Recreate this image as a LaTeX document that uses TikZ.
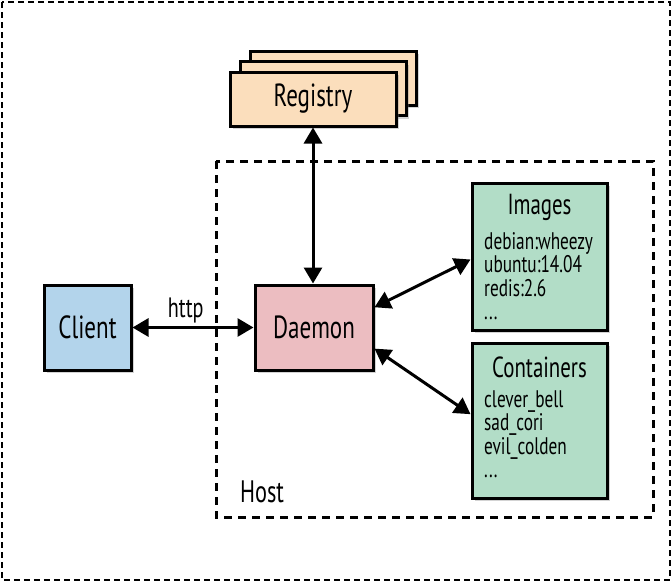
\documentclass[tikz,border=0pt]{standalone}
\usepackage{fontspec}
\setmainfont{PT Sans}[FakeStretch=0.72]
\usetikzlibrary{arrows.meta, calc, shadows}
\definecolor{clientblue}{RGB}{179,212,235}
\definecolor{daemonpink}{RGB}{236,189,193}
\definecolor{registryorange}{RGB}{251,222,188}
\definecolor{storegreen}{RGB}{178,221,199}

\begin{document}
\begin{tikzpicture}[x=1pt, y=-1pt,
    box/.style={draw, line width=3pt, inner sep=0pt,
        drop shadow={shadow xshift=3pt, shadow yshift=-3pt, opacity=0.35},
        font=\fontsize{32}{34}\selectfont},
    title/.style={font=\fontsize{29}{32}\selectfont, inner sep=0pt},
    listtext/.style={font=\fontsize{24}{23.5}\selectfont, align=left, inner sep=0pt},
    link/.style={line width=3pt, {Triangle[length=16pt, width=18pt]}-{Triangle[length=16pt, width=18pt]}},
    frame/.style={dashed, line width=3pt, dash pattern=on 8pt off 6pt}]
    \useasboundingbox (0,0) rectangle (672,582);

    % outer frame
    \draw[line width=1.5pt, dash pattern=on 6pt off 4pt] (2,2) rectangle (670,580);

    % Host
    \draw[frame] (216,161) rectangle (653,517);
    \node[font=\fontsize{31}{34}\selectfont, inner sep=0pt] (host) at (262,492) {Host};

    % Registry (stack of three)
    \foreach \k in {2,1} {
        \node[box, fill=registryorange, minimum width=166pt, minimum height=54pt] at (313+\k*10, 99-\k*10.5) {};
    }
    \node[box, fill=registryorange, minimum width=166pt, minimum height=54pt] (registry) at (313,99) {Registry};

    % Client and Daemon
    \node[box, fill=clientblue, minimum width=87pt, minimum height=85pt] (client) at (87.5,327.5) {Client};
    \node[box, fill=daemonpink, minimum width=118pt, minimum height=85pt] (daemon) at (314,327.5) {Daemon};

    % Images
    \node[box, fill=storegreen, minimum width=135pt, minimum height=147pt] (images) at (539.5,256.5) {};
    \node[title] (imgtitle) at (539.5,207) {Images};
    \node[listtext, anchor=west] (imglist) at (484,276) {debian:wheezy\\ubuntu:14.04\\redis:2.6\\...};

    % Containers
    \node[box, fill=storegreen, minimum width=135pt, minimum height=155pt] (containers) at (539.5,420.5) {};
    \node[title] (ctrtitle) at (539.5,367) {Containers};
    \node[listtext, anchor=west] (ctrlist) at (484,434) {clever\_bell\\sad\_cori\\evil\_colden\\...};

    % connections
    \draw[link] (registry.south) -- (registry.south |- daemon.north);
    \draw[link] (client.east) -- node[pos=0.44, above=3pt, font=\fontsize{28}{30}\selectfont, inner sep=0pt] (http) {http} (daemon.west);
    \draw[link] ($(daemon.north east)!0.27!(daemon.south east)$) -- ($(images.north west)!0.52!(images.south west)$);
    \draw[link] ($(daemon.north east)!0.74!(daemon.south east)$) -- ($(containers.north west)!0.46!(containers.south west)$);
\end{tikzpicture}
\end{document}
